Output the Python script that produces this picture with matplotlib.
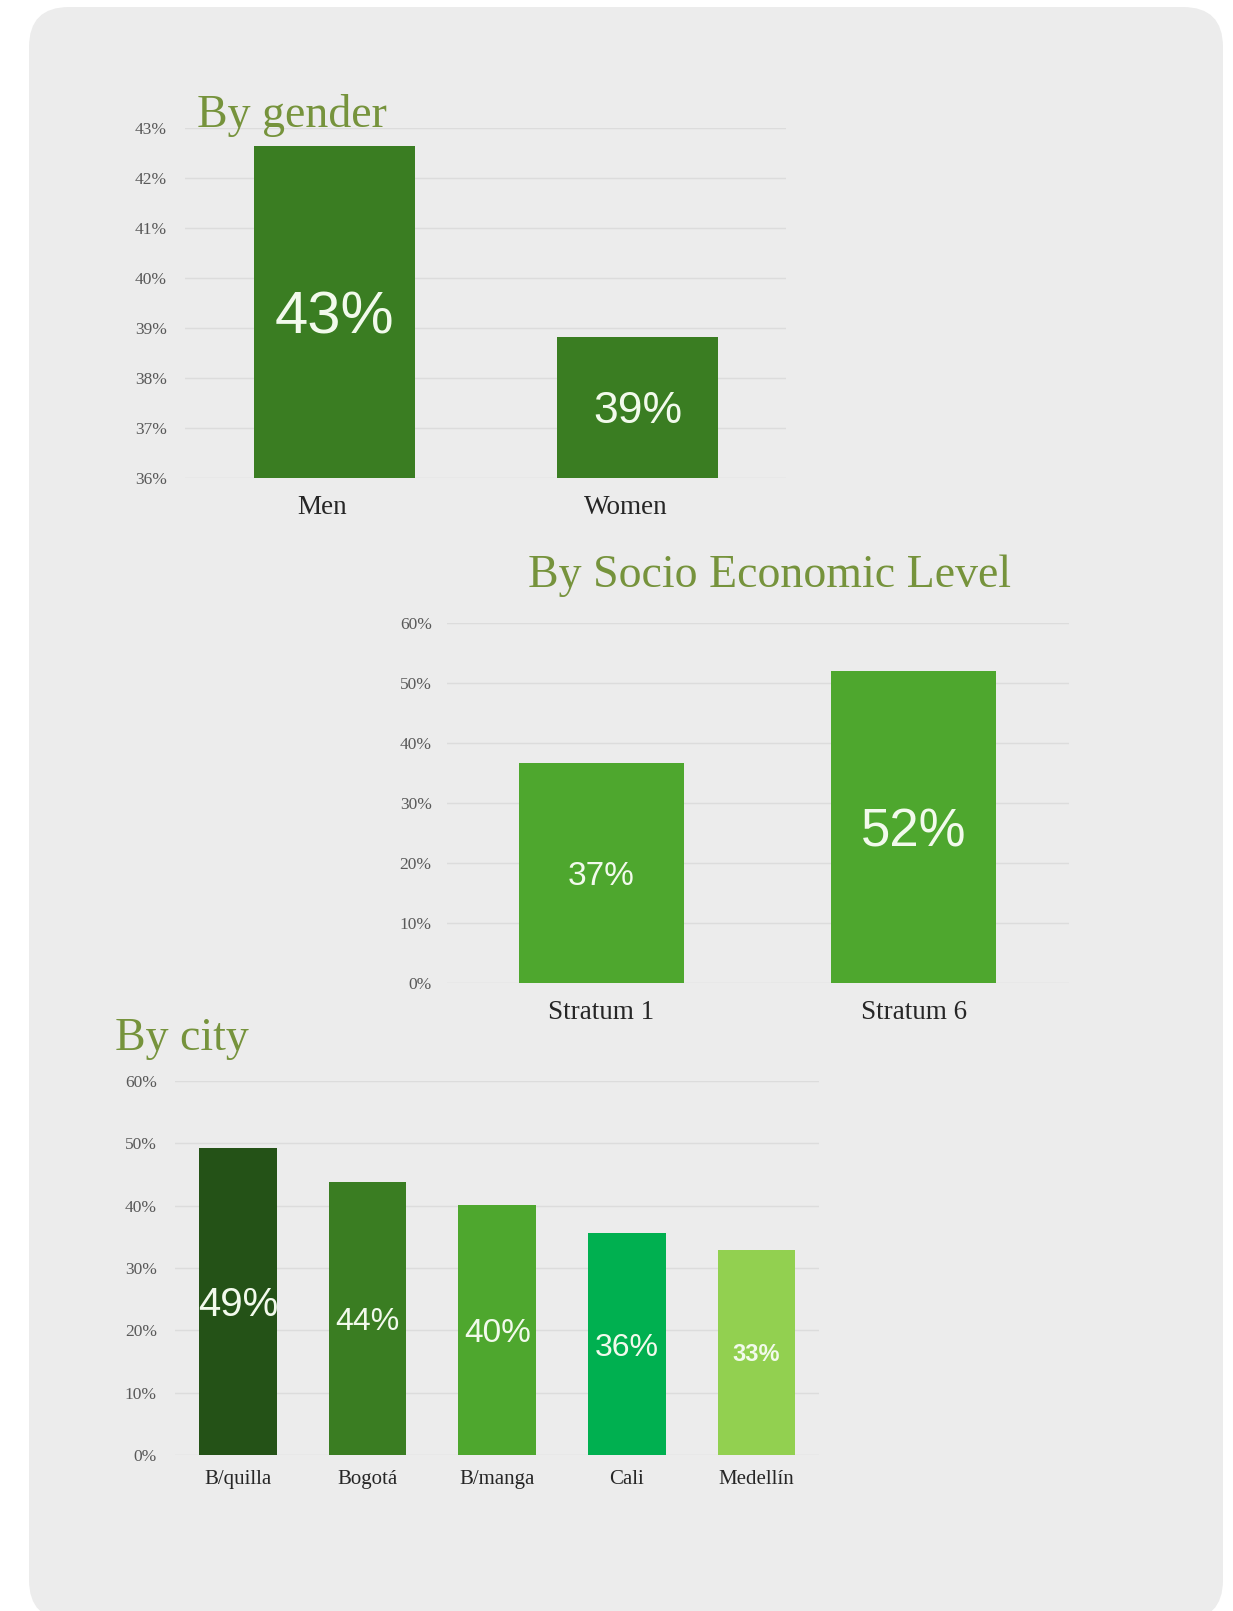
import matplotlib
matplotlib.use("Agg")
import matplotlib.pyplot as plt
from matplotlib.patches import FancyBboxPatch
from matplotlib.ticker import FuncFormatter
from matplotlib.transforms import ScaledTranslation

# dane
plec = ["Men", "Women"]
plec_wart = [42.64, 38.82]
plec_etyk = ["43%", "39%"]

strata = ["Stratum 1", "Stratum 6"]
strata_wart = [36.7, 52.0]
strata_etyk = ["37%", "52%"]

miasta = ["B/quilla", "Bogotá", "B/manga", "Cali", "Medellín"]
miasta_wart = [49.3, 43.8, 40.1, 35.6, 32.9]
miasta_etyk = ["49%", "44%", "40%", "36%", "33%"]

kolor_tytul = "#76933c"
kolor_siatka = "#dcdcdc"
kolor_tla = "#ececec"
kolory_miasta = ["#245217", "#3a7d22", "#4ea72e", "#00b050", "#92d050"]

plt.rcParams["font.family"] = ["Liberation Serif", "DejaVu Serif"]
etyk_font = ["Liberation Sans", "DejaVu Sans"]

fig = plt.figure(figsize=(12.33, 16.11), dpi=100, facecolor="white")

# tlo z zaokraglonymi rogami
tlo = fig.add_axes([0, 0, 1, 1], zorder=-1)
tlo.set_xlim(0, 1233)
tlo.set_ylim(1611, 0)
tlo.axis("off")
tlo.add_patch(FancyBboxPatch((29, 7), 1194, 1613,
                             boxstyle="round,pad=0,rounding_size=40",
                             facecolor=kolor_tla, edgecolor="none"))


def rysuj(ax, kategorie, wartosci, etykiety, kolory, szer, ymin, ymax, krok,
          rozm_etyk, rozm_kat, pad_y, pad_x, grube=()):
    x = list(range(len(kategorie)))
    ax.set_facecolor("none")
    ax.bar(x, [w - ymin for w in wartosci], bottom=ymin, width=szer,
           color=kolory, zorder=3)
    for i, (xi, w, e, r) in enumerate(zip(x, wartosci, etykiety, rozm_etyk)):
        ax.text(xi, (w + ymin) / 2, e, ha="center", va="center_baseline",
                fontsize=r, color="#f2faec", family=etyk_font, zorder=4,
                fontweight="bold" if i in grube else "normal")
    ax.set_ylim(ymin, ymax)
    ax.set_yticks(list(range(ymin, ymax + 1, krok)))
    ax.yaxis.set_major_formatter(FuncFormatter(lambda v, p: f"{v:.0f}%"))
    ax.set_xticks(x)
    ax.set_xticklabels(kategorie)
    ax.grid(axis="y", color=kolor_siatka, linewidth=1, zorder=0)
    for s in ax.spines.values():
        s.set_visible(False)
    ax.tick_params(axis="y", length=0, pad=pad_y, labelsize=12.5,
                   labelcolor="#595959")
    ax.tick_params(axis="x", length=0, pad=pad_x, labelsize=rozm_kat,
                   labelcolor="#262626")


ax1 = fig.add_axes([0.150, 0.7033, 0.4874, 0.2173])
rysuj(ax1, plec, plec_wart, plec_etyk, "#3a7d22", 0.53, 36, 43, 1,
      [43, 32], 19.5, 13, 12)
ax1.set_xlim(-0.493, 1.488)
# podpisy kategorii lekko w lewo
for lab in ax1.get_xticklabels():
    lab.set_transform(lab.get_transform() + ScaledTranslation(-0.12, 0, fig.dpi_scale_trans))

ax2 = fig.add_axes([0.3625, 0.3898, 0.5045, 0.2235])
rysuj(ax2, strata, strata_wart, strata_etyk, "#4ea72e", 0.53, 0, 60, 10,
      [24, 38], 19.5, 11, 12)
ax2.set_xlim(-0.495, 1.498)

ax3 = fig.add_axes([0.1419, 0.0968, 0.5223, 0.2322])
rysuj(ax3, miasta, miasta_wart, miasta_etyk, kolory_miasta, 0.60, 0, 60, 10,
      [29, 23, 24, 23, 17], 15, 13, 11, grube=(4,))
ax3.set_xlim(-0.486, 4.482)

fig.text(0.160, 0.9285, "By gender", fontsize=33, color=kolor_tytul,
         va="center", ha="left")
fig.text(0.428, 0.6425, "By Socio Economic Level", fontsize=33,
         color=kolor_tytul, va="center", ha="left")
fig.text(0.0933, 0.355, "By city", fontsize=33, color=kolor_tytul,
         va="center", ha="left")

fig.savefig("out.png", dpi=100)
